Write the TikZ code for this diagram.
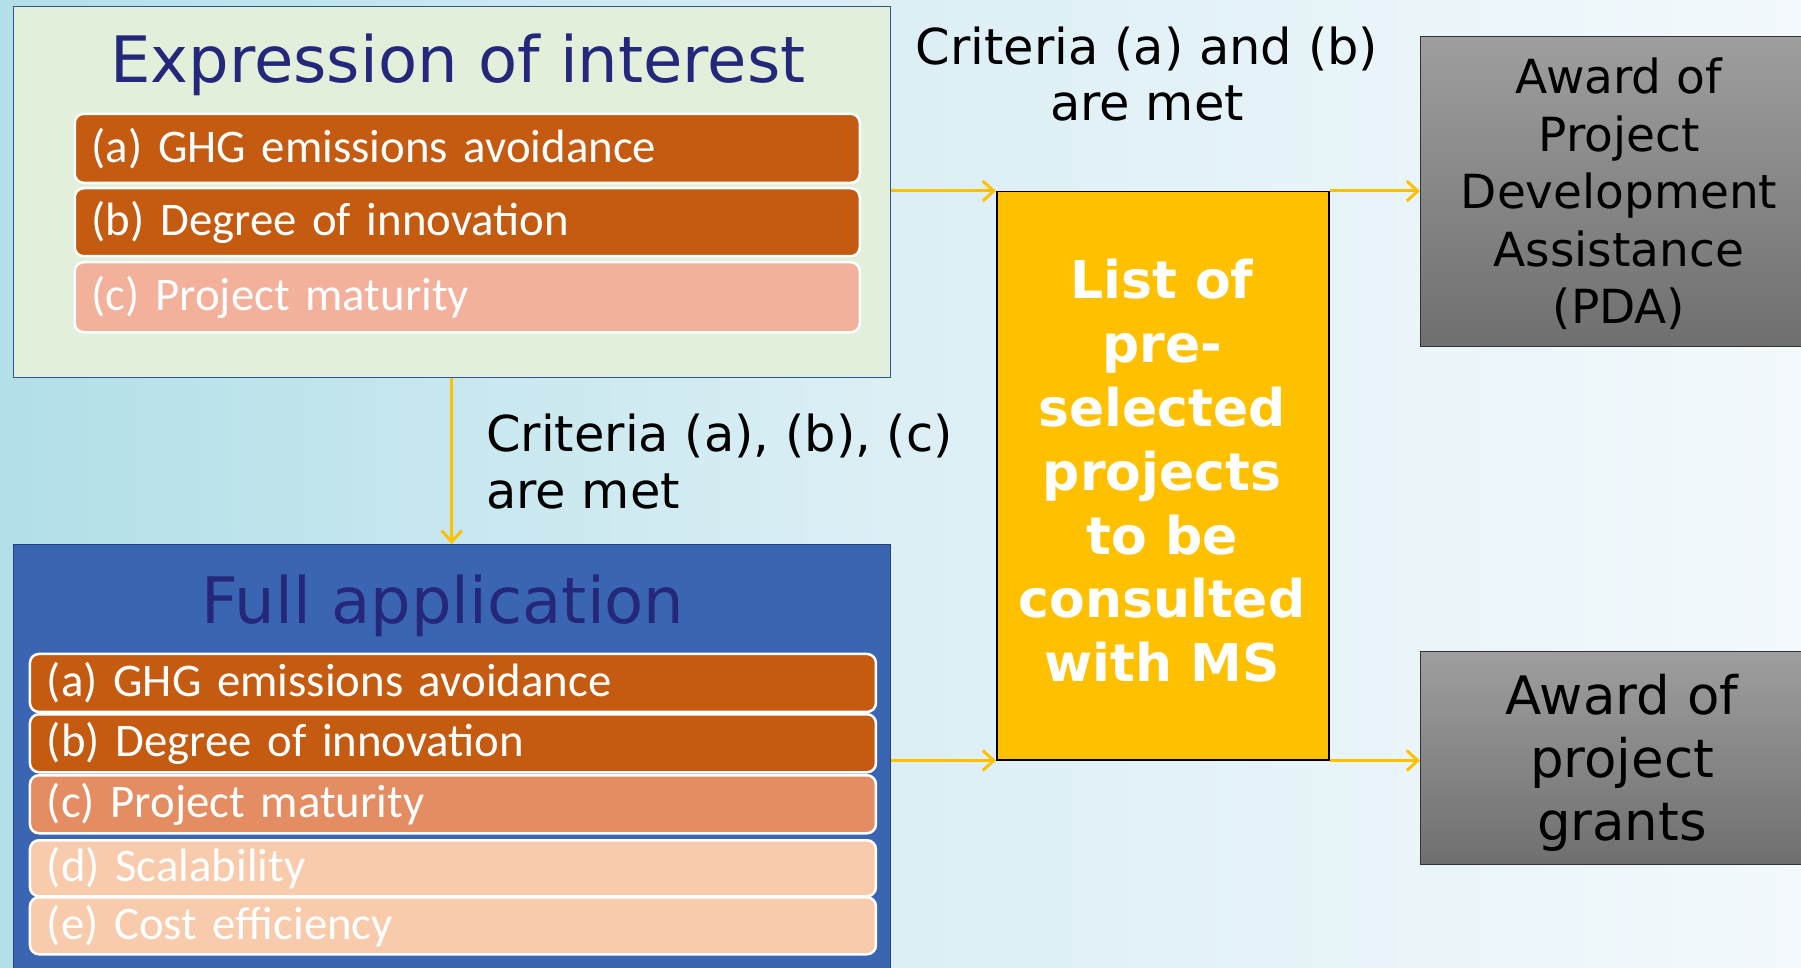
\documentclass[tikz,border=0pt]{standalone}
\usepackage{fontspec}
\setmainfont{DejaVu Sans}
\newfontfamily\barfont{Carlito}
\usetikzlibrary{arrows.meta,calc}

\definecolor{bgL}{HTML}{B2DFE8}
\definecolor{bgM}{HTML}{DCEFF5}
\definecolor{bgR}{HTML}{F3F9FC}
\definecolor{eoiFill}{HTML}{E2EFDA}
\definecolor{eoiBorder}{HTML}{2F5597}
\definecolor{faFill}{HTML}{3A65B3}
\definecolor{faBorder}{HTML}{23407A}
\definecolor{titleCol}{HTML}{25277A}
\definecolor{barDark}{HTML}{C55A11}
\definecolor{barSalmon}{HTML}{F3B09A}
\definecolor{barMid}{HTML}{E58D62}
\definecolor{barLight}{HTML}{F8CBAD}
\definecolor{listFill}{HTML}{FFC000}
\definecolor{arrowCol}{HTML}{FFC000}
\definecolor{grayTop}{HTML}{9E9E9E}
\definecolor{grayBot}{HTML}{6F6F6F}

\begin{document}
\begin{tikzpicture}[x=1pt,y=-1pt,
  bigbox/.style={line width=1.2pt, anchor=north west, inner sep=0pt},
  bar/.style={draw=white, line width=2.5pt, rounded corners=9pt, inner xsep=17pt,
    inner ysep=0pt, anchor=north west, text=white, align=left,
    font=\barfont\fontsize{46.8}{50}\selectfont},
  eoibar/.style={bar, text width=751pt, minimum height=#1},
  fabar/.style={bar, text width=812pt, minimum height=#1},
  title/.style={text=titleCol, font=\fontsize{64}{70}\selectfont, anchor=base, inner sep=0pt},
  label/.style={text=black, font=\fontsize{49.5}{56.5}\selectfont, inner sep=0pt},
  graybox/.style={draw=black!80, line width=1.2pt, top color=grayTop, bottom color=grayBot,
    anchor=north west, inner sep=0pt},
  award/.style={text=black, align=center, inner sep=0pt},
  arr/.style={draw=arrowCol, line width=3pt, -{Straight Barb[length=11pt,width=20pt,line width=3pt]}}
]
\useasboundingbox (0,0) rectangle (1801,968);
\clip (0,0) rectangle (1801,968);

% background
\shade[left color=bgL, right color=bgR, middle color=bgM] (0,0) rectangle (1801,968);

% expression of interest
\node[bigbox, draw=eoiBorder, fill=eoiFill, minimum width=877pt, minimum height=371pt] (eoi) at (12.6,5.7) {};
\node[title] (eoititle) at (458,83) {Expression of interest};
\node[eoibar=69pt, fill=barDark] (eoia) at (73.5,112.6) {(a) GHG emissions avoidance};
\node[eoibar=68pt, fill=barDark] (eoib) at (73.5,187) {(b) Degree of innovation};
\node[eoibar=70pt, fill=barSalmon] (eoic) at (73.5,261) {(c) Project maturity};

% full application
\node[bigbox, draw=faBorder, fill=faFill, minimum width=877pt, minimum height=436pt] (fa) at (12.6,544) {};
\node[title] (fatitle) at (443,623) {Full application};
\node[fabar=58pt, fill=barDark] (faa) at (28.7,652.7) {(a) GHG emissions avoidance};
\node[fabar=58pt, fill=barDark] (fab) at (28.7,713) {(b) Degree of innovation};
\node[fabar=58pt, fill=barMid] (fac) at (28.7,774) {(c) Project maturity};
\node[fabar=56pt, fill=barLight] (fad) at (28.7,839) {(d) Scalability};
\node[fabar=57pt, fill=barLight] (fae) at (28.7,896) {(e) Cost efficiency};

% pre-selection list
\node[draw=black, fill=listFill, line width=1.5pt, minimum width=332pt, minimum height=568pt,
  anchor=north west, inner sep=0pt] (list) at (996,191) {};
\node[text=white, align=center, inner sep=0pt, font=\bfseries\fontsize{52}{63.8}\selectfont]
  (listtext) at (1162,471) {List of\\pre-\\selected\\projects\\to be\\consulted\\with MS};

% awards
\node[graybox, minimum width=400pt, minimum height=310.4pt] (pda) at (1420,35.6) {};
\node[award, font=\fontsize{47}{57.6}\selectfont] (pdatext) at (1619,194)
  {Award of\\Project\\Development\\Assistance\\(PDA)};
\node[graybox, minimum width=400pt, minimum height=213pt] (grants) at (1420,651) {};
\node[award, font=\fontsize{53}{63}\selectfont] (grantstext) at (1622,763)
  {Award of\\project\\grants};

% criteria labels
\node[label, align=center] (critab) at (1147,74) {Criteria (a) and (b)\\are met};
\node[label, align=left, anchor=west] (critabc) at (486,461.5) {Criteria (a), (b), (c)\\are met};

% connectors
\draw[arr] (eoi.south) -- (fa.north);
\draw[arr] (list.north west -| eoi.east) -- (list.north west);
\draw[arr] (list.south west -| fa.east) -- (list.south west);
\draw[arr] (list.north east) -- (list.north east -| pda.west);
\draw[arr] (list.south east) -- (list.south east -| grants.west);
\end{tikzpicture}
\end{document}
